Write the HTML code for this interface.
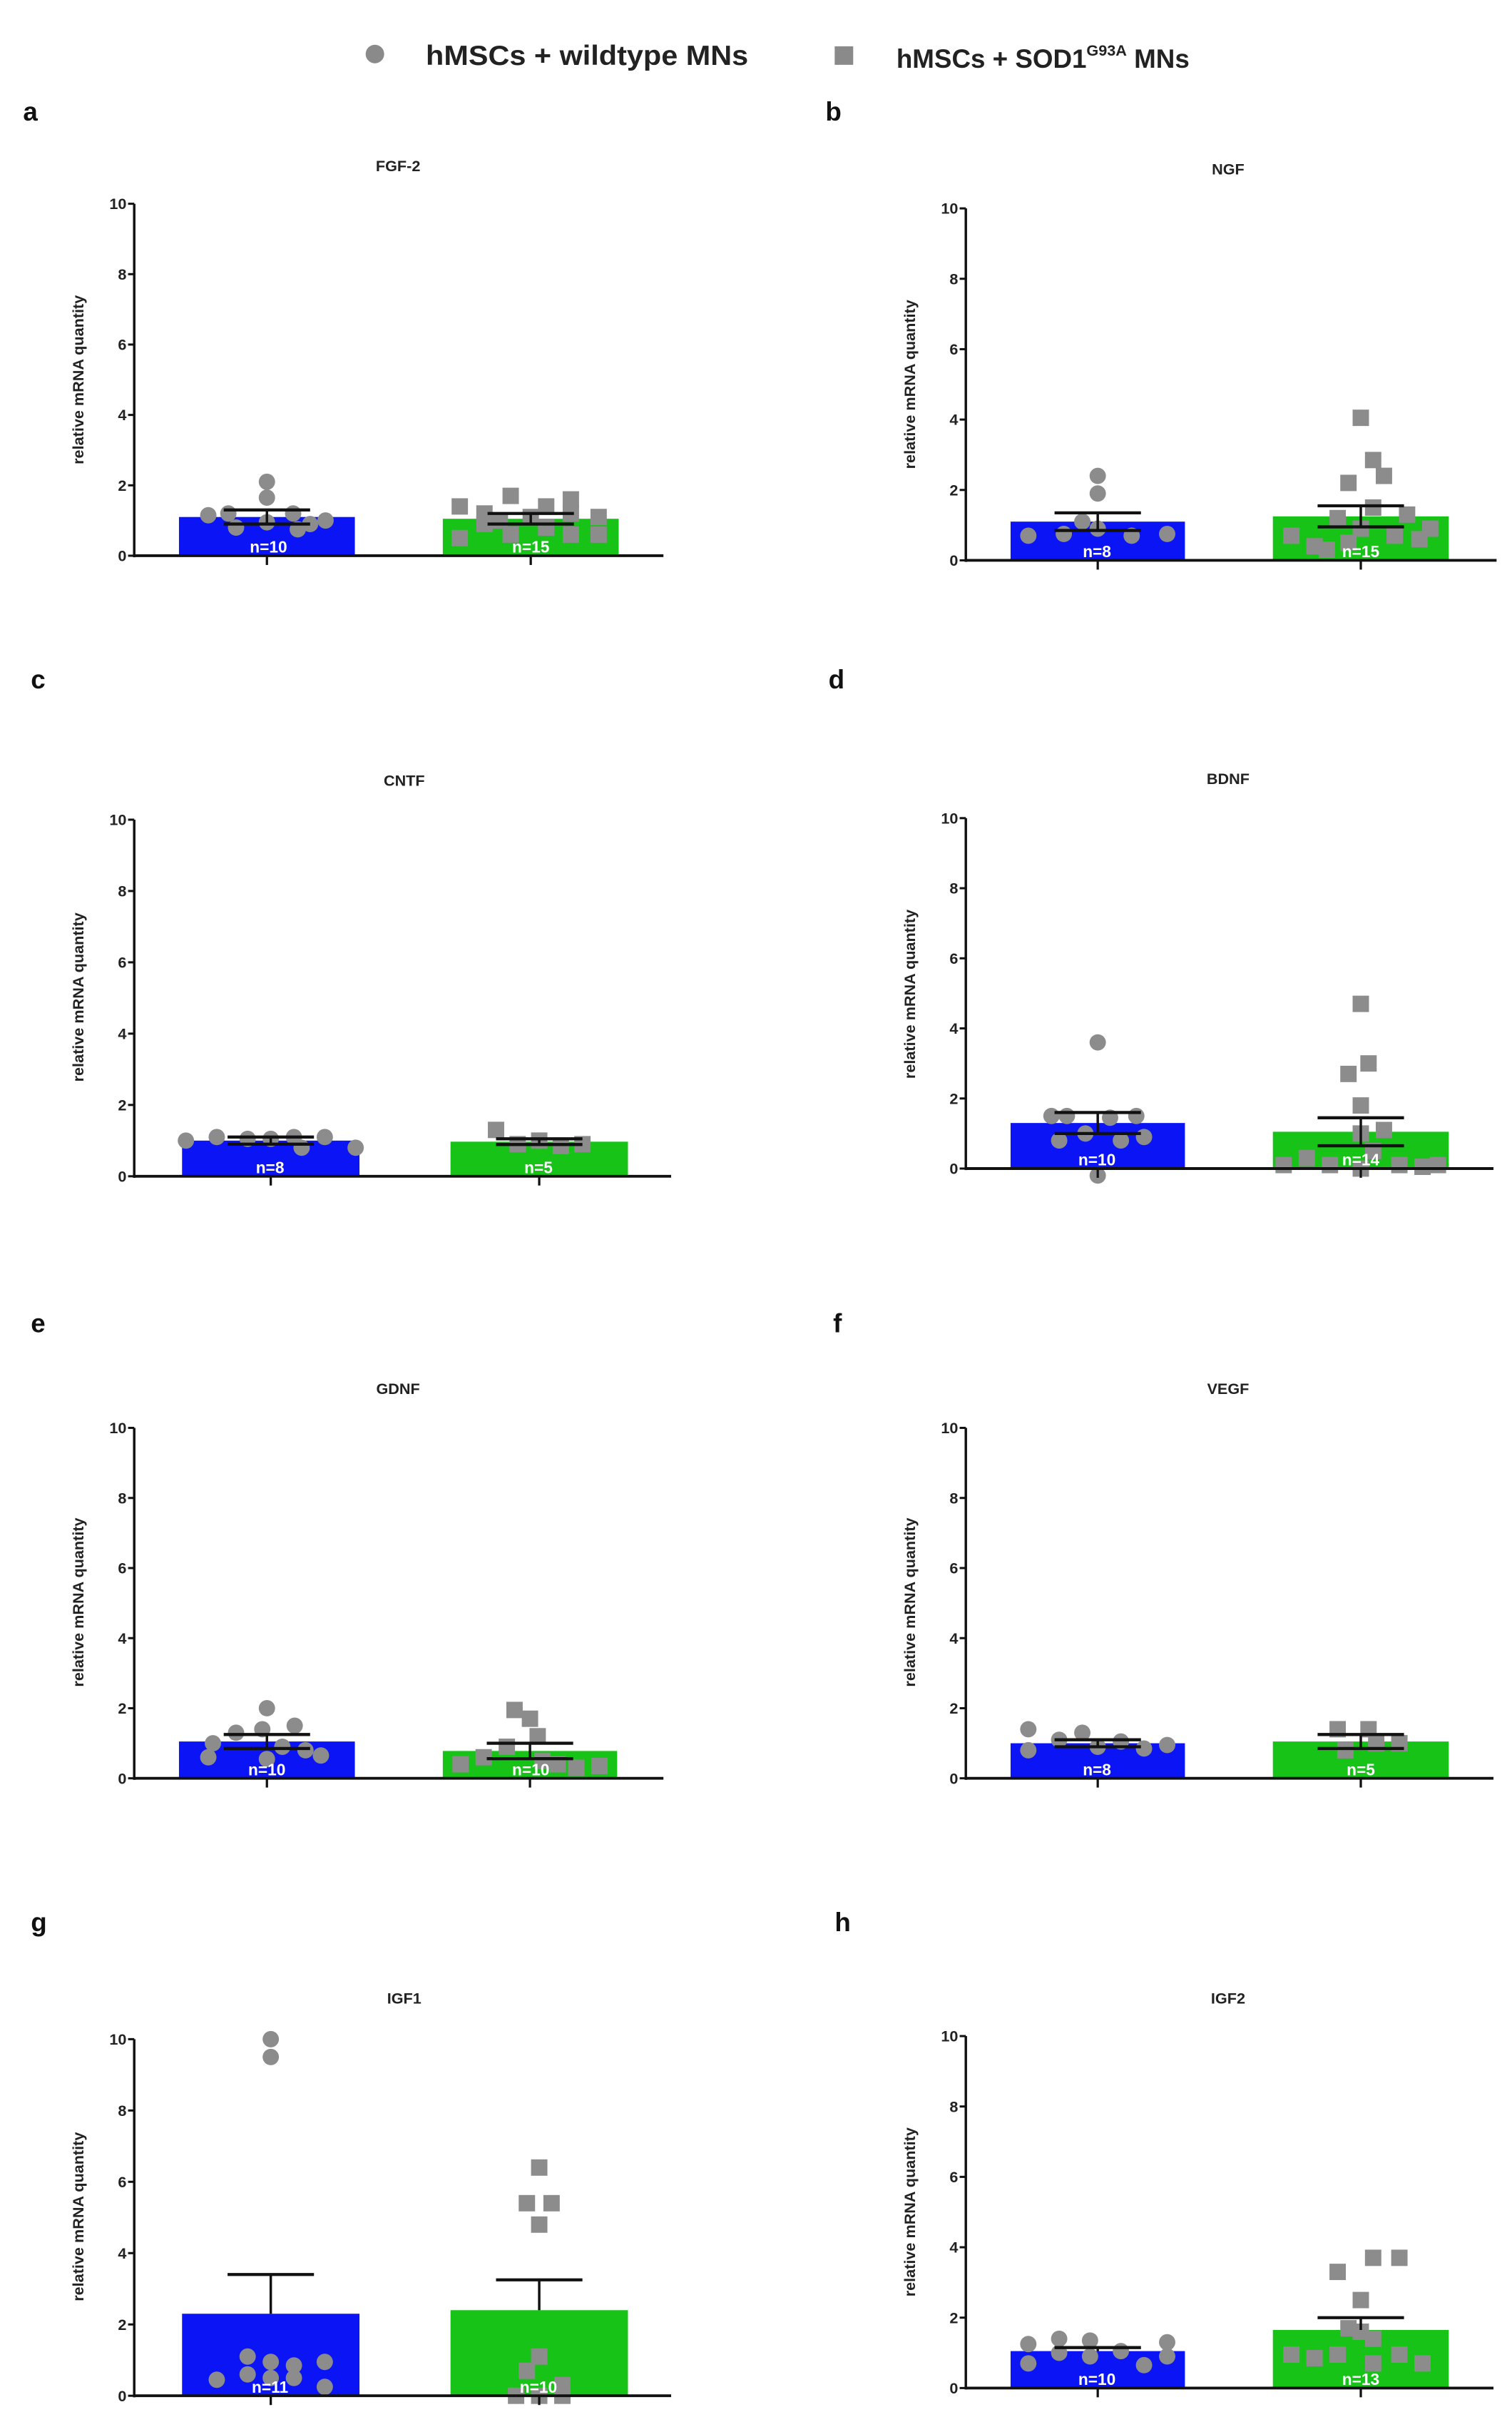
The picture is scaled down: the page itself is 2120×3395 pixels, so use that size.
<!DOCTYPE html>
<html><head><meta charset="utf-8">
<style>
html,body{margin:0;padding:0;background:#fff;}
svg{display:block;}
text{font-family:"Liberation Sans",Arial,sans-serif;font-weight:bold;}
</style></head>
<body>
<svg id="s" width="2120" height="3395" viewBox="0 0 980 1569" preserveAspectRatio="none" xmlns="http://www.w3.org/2000/svg">
<rect width="980" height="1569" fill="#fff"/>
<circle cx="243" cy="35" r="6" fill="#8a8a8a"/>
<text x="276" y="42" font-size="18" fill="#222" textLength="209" lengthAdjust="spacingAndGlyphs">hMSCs + wildtype MNs</text>
<rect x="541" y="30" width="12" height="12" fill="#8a8a8a"/>
<text x="581" y="44" font-size="17" fill="#222">hMSCs + SOD1<tspan font-size="10" dy="-8">G93A</tspan><tspan dy="8"> MNs</tspan></text>
<g font-size="17" fill="#111">
<text x="15" y="78">a</text><text x="535" y="78">b</text>
<text x="20" y="446">c</text><text x="537" y="446">d</text>
<text x="20" y="863">e</text><text x="540" y="863">f</text>
<text x="20" y="1251">g</text><text x="541" y="1251">h</text>
</g>
<g font-size="10" fill="#222" text-anchor="middle">
<text x="258" y="111">FGF-2</text><text x="796" y="113">NGF</text>
<text x="262" y="509">CNTF</text><text x="796" y="508">BDNF</text>
<text x="258" y="903">GDNF</text><text x="796" y="903">VEGF</text>
<text x="262" y="1298">IGF1</text><text x="796" y="1298">IGF2</text>
</g>
<g font-size="10" fill="#222" text-anchor="middle">
<text transform="translate(54,246) rotate(-90)">relative mRNA quantity</text>
<text transform="translate(593,249) rotate(-90)">relative mRNA quantity</text>
<text transform="translate(54,646) rotate(-90)">relative mRNA quantity</text>
<text transform="translate(593,644) rotate(-90)">relative mRNA quantity</text>
<text transform="translate(54,1038) rotate(-90)">relative mRNA quantity</text>
<text transform="translate(593,1038) rotate(-90)">relative mRNA quantity</text>
<text transform="translate(54,1436) rotate(-90)">relative mRNA quantity</text>
<text transform="translate(593,1433) rotate(-90)">relative mRNA quantity</text>
</g>
<g id="ticks" font-size="10" fill="#222" text-anchor="end"></g>
<g id="plots"></g>
<g font-size="10.5" fill="#fff" text-anchor="middle">
<text x="174" y="358">n=10</text><text x="344" y="358">n=15</text>
<text x="711" y="361">n=8</text><text x="882" y="361">n=15</text>
<text x="175" y="760">n=8</text><text x="349" y="760">n=5</text>
<text x="711" y="755">n=10</text><text x="882" y="755">n=14</text>
<text x="173" y="1150">n=10</text><text x="344" y="1150">n=10</text>
<text x="711" y="1150">n=8</text><text x="882" y="1150">n=5</text>
<text x="175" y="1550">n=11</text><text x="349" y="1550">n=10</text>
<text x="711" y="1545">n=10</text><text x="882" y="1545">n=13</text>
</g>
</svg>
<script>
var NS="http://www.w3.org/2000/svg";
var P=document.getElementById("plots"), T=document.getElementById("ticks");
function el(t,a,p){var e=document.createElementNS(NS,t);for(var k in a)e.setAttribute(k,a[k]);(p||P).appendChild(e);return e;}
var panels=[
{ax:87,top:132,zero:360,end:430,b:[116,230],g:[287,401],bm:1.1,be:1.3,gm:1.05,ge:1.2,
 bp:[[-38,1.15],[-25,1.2],[-20,0.8],[0,1.65],[0,2.1],[0,0.95],[17,1.2],[20,0.75],[38,1.0],[28,0.9]],
 gp:[[-46,1.4],[-46,0.5],[-30,1.2],[-30,0.9],[-13,1.7],[-13,0.6],[0,1.1],[10,1.4],[10,0.8],[26,1.6],[26,0.6],[26,1.2],[44,1.1],[44,0.6],[-20,1.0]]},
{ax:626,top:135,zero:363,end:970,b:[655,768],g:[825,939],bm:1.1,be:1.35,gm:1.25,ge:1.55,
 bp:[[-45,0.7],[-22,0.75],[0,2.4],[0,1.9],[0,0.9],[-10,1.1],[22,0.7],[45,0.75]],
 gp:[[-45,0.7],[-30,0.4],[-15,1.2],[-8,0.5],[-8,2.2],[0,0.9],[8,2.85],[8,1.5],[15,2.4],[0,4.05],[22,0.7],[30,1.3],[45,0.9],[-22,0.3],[38,0.6]]},
{ax:87,top:531,zero:762,end:435,b:[118,233],g:[292,407],bm:1.0,be:1.1,gm:0.97,ge:1.05,
 bp:[[-55,1.0],[-35,1.1],[-15,1.05],[0,1.05],[15,1.1],[20,0.8],[35,1.1],[55,0.8]],
 gp:[[-28,1.3],[-14,0.9],[0,1.0],[14,0.85],[28,0.9]]},
{ax:626,top:530,zero:757,end:968,b:[655,768],g:[825,939],bm:1.3,be:1.6,gm:1.05,ge:1.45,
 bp:[[-30,1.5],[0,3.6],[-20,1.5],[-8,1.0],[8,1.45],[15,0.8],[25,1.5],[-25,0.8],[30,0.9],[0,-0.2]],
 gp:[[-50,0.1],[-35,0.3],[-20,0.1],[-8,2.7],[5,3.0],[0,1.8],[0,4.7],[0,1.0],[8,0.5],[15,1.1],[25,0.1],[40,0.05],[50,0.1],[0,0.0]]},
{ax:87,top:925,zero:1152,end:430,b:[116,230],g:[287,400],bm:1.05,be:1.25,gm:0.78,ge:1.0,
 bp:[[-38,0.6],[-35,1.0],[-20,1.3],[0,2.0],[-3,1.4],[10,0.9],[18,1.5],[25,0.8],[35,0.65],[0,0.55]],
 gp:[[-45,0.4],[-30,0.6],[-15,0.9],[-10,1.95],[0,1.7],[5,1.2],[8,0.5],[18,0.4],[45,0.35],[30,0.3]]},
{ax:626,top:925,zero:1152,end:968,b:[655,768],g:[825,939],bm:1.0,be:1.1,gm:1.05,ge:1.25,
 bp:[[-45,1.4],[-45,0.8],[-25,1.1],[-10,1.3],[0,0.9],[15,1.05],[30,0.85],[45,0.95]],
 gp:[[-15,1.4],[-10,0.8],[5,1.4],[10,1.0],[25,1.0]]},
{ax:87,top:1321,zero:1552,end:435,b:[118,233],g:[292,407],bm:2.3,be:3.4,gm:2.4,ge:3.25,nolow:1,
 bp:[[-35,0.45],[-15,1.1],[0,10.0],[0,9.5],[-15,0.6],[0,0.95],[15,0.85],[15,0.5],[35,0.95],[35,0.25],[0,0.5]],
 gp:[[-15,0.0],[-8,0.7],[-8,5.4],[0,6.4],[0,4.8],[8,5.4],[0,1.1],[0,0.0],[15,0.3],[15,0.0]]},
{ax:626,top:1319,zero:1547,end:968,b:[655,768],g:[825,939],bm:1.05,be:1.15,gm:1.65,ge:2.0,nolow:1,
 bp:[[-45,0.7],[-45,1.25],[-25,1.4],[-25,1.0],[-5,1.35],[-5,0.9],[15,1.05],[30,0.65],[45,1.3],[45,0.9]],
 gp:[[-45,0.95],[-30,0.85],[-15,3.3],[-15,0.95],[-8,1.7],[0,2.5],[8,3.7],[8,1.4],[8,0.7],[25,3.7],[25,0.95],[40,0.7],[0,1.6]]}
];
panels.forEach(function(p){
  var s=(p.zero-p.top)/10; function Y(v){return p.zero-v*s;}
  var bc=(p.b[0]+p.b[1])/2, gc=(p.g[0]+p.g[1])/2;
  el("rect",{x:p.b[0],y:Y(p.bm),width:p.b[1]-p.b[0],height:p.bm*s,fill:"#0a14f5"});
  el("rect",{x:p.g[0],y:Y(p.gm),width:p.g[1]-p.g[0],height:p.gm*s,fill:"#17c317"});
  p.bp.forEach(function(d){el("circle",{cx:bc+d[0],cy:Y(d[1]),r:5.3,fill:"#8c8c8c"});});
  p.gp.forEach(function(d){el("rect",{x:gc+d[0]-5.3,y:Y(d[1])-5.3,width:10.6,height:10.6,fill:"#8c8c8c"});});
  [[bc,p.bm,p.be],[gc,p.gm,p.ge]].forEach(function(e){
    var lo=p.nolow?e[1]:e[1]-(e[2]-e[1]);
    el("line",{x1:e[0],x2:e[0],y1:Y(lo),y2:Y(e[2]),stroke:"#111","stroke-width":1.6});
    el("line",{x1:e[0]-28,x2:e[0]+28,y1:Y(e[2]),y2:Y(e[2]),stroke:"#111","stroke-width":2});
    if(!p.nolow) el("line",{x1:e[0]-28,x2:e[0]+28,y1:Y(lo),y2:Y(lo),stroke:"#111","stroke-width":2});
  });
  el("line",{x1:p.ax,x2:p.ax,y1:p.top,y2:p.zero+1,stroke:"#111","stroke-width":1.6});
  el("line",{x1:p.ax,x2:p.end,y1:p.zero,y2:p.zero,stroke:"#111","stroke-width":1.8});
  el("line",{x1:bc,x2:bc,y1:p.zero,y2:p.zero+6,stroke:"#111","stroke-width":1.5});
  el("line",{x1:gc,x2:gc,y1:p.zero,y2:p.zero+6,stroke:"#111","stroke-width":1.5});
  for(var v=0;v<=10;v+=2){
    el("line",{x1:p.ax-4,x2:p.ax,y1:Y(v),y2:Y(v),stroke:"#111","stroke-width":1.4});
    var t=el("text",{x:p.ax-5,y:Y(v)+3.5},T);t.textContent=v;
  }
});
</script>
</body></html>
